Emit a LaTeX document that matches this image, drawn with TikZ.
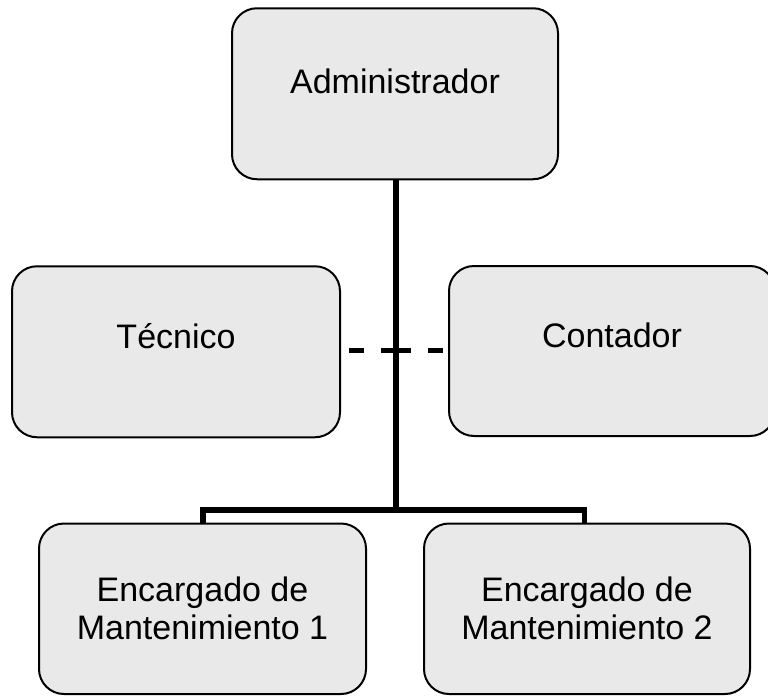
\documentclass[tikz,border=0pt]{standalone}
\usepackage{fontspec}
\setmainfont{Liberation Sans}
\begin{document}
\begin{tikzpicture}[x=1pt,y=-1pt,
  orgbox/.style={draw=black,line width=2pt,fill=boxgray,rounded corners=25pt,
    minimum width=326pt,minimum height=171pt,inner sep=0pt,
    font=\fontsize{34}{38}\selectfont},
  single/.style={text height=24pt,text depth=#1},
  twoline/.style={align=center},
  link/.style={line width=5.5pt,line join=miter},
  dlink/.style={line width=5pt,dash pattern=on 15pt off 17pt}]
\definecolor{boxgray}{HTML}{E9E9E9}
\useasboundingbox (0,0) rectangle (768,696);
\clip (0,0) rectangle (768,696);
\node[orgbox,single=25pt] (admin) at (395,93.75) {Administrador};
\node[orgbox,single=31.5pt,minimum width=328pt] (tec) at (176,351.75) {Técnico};
\node[orgbox,single=31.5pt,minimum height=170pt] (cont) at (612,351) {Contador};
\node[orgbox,twoline,minimum width=327pt,minimum height=170.5pt] (e1) at (202.5,608.75) {Encargado de\\Mantenimiento 1};
\node[orgbox,twoline,minimum height=170.5pt] (e2) at (587,608.75) {Encargado de\\Mantenimiento 2};
\coordinate (bus) at (395.5,510);
\coordinate (mid) at (395.5,350.5);
\coordinate (d1) at (203,510);
\coordinate (d2) at (584.5,510);
\draw[link,line width=6pt] (admin.south -| bus) -- ([yshift=2.75pt]bus);
\draw[link] (d1 |- e1.north) -- (d1) -- (d2) -- (d2 |- e2.north);
\draw[dlink] (mid) -- (mid -| tec.east);
\draw[dlink] (mid) -- (mid -| cont.west);
\end{tikzpicture}
\end{document}
